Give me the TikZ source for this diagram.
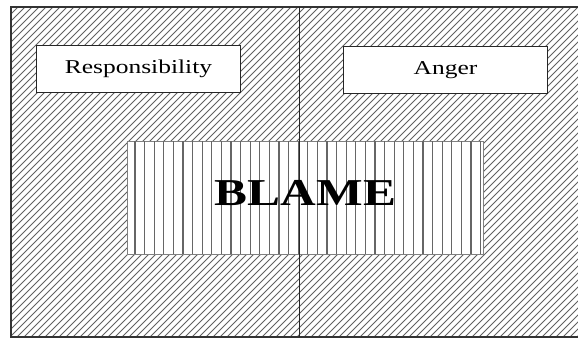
\documentclass[tikz,border=0pt]{standalone}
\usepackage{fontspec}
\setmainfont{Liberation Serif}
\begin{document}
\begin{tikzpicture}[x=1pt,y=-1pt,
  hatch/.style={draw=black!62,line width=1pt},
  vhatch/.style={draw=black!60,line width=1.1pt},
  labelbox/.style={draw=black!85,line width=1pt,fill=white,minimum width=204pt,minimum height=47pt,inner sep=0pt,
     font=\fontsize{19.6}{20}\selectfont,text height=13pt,text depth=4pt},
  blamebox/.style={draw=black!50,line width=0.6pt,fill=white,minimum width=356pt,minimum height=113pt,inner sep=0pt},
  blametext/.style={font=\fontsize{38}{40}\selectfont\bfseries,inner sep=0pt,anchor=base},
  frame/.style={draw=black!80,line width=1.3pt},
  divider/.style={draw=black!85,line width=1pt}]
\useasboundingbox (0,0) rectangle (578,339);
\coordinate (nw) at (11,7);
\coordinate (se) at (584,337);
\coordinate (dtop) at (299,7);
\coordinate (dbot) at (299,337);
% diagonal hatching of the whole frame
\begin{scope}
  \clip (nw) rectangle (se);
  \foreach \i in {-340,-333,...,590} \draw[hatch] (\i,337) -- ++(340,-340);
\end{scope}
\draw[frame] (nw) rectangle (se);
% label boxes
\node[labelbox] (resp) at (138.5,69.5) {\scalebox{1.3}[1]{Responsibility}};
\node[labelbox] (anger) at (445.5,70.5) {\scalebox{1.3}[1]{Anger}};
% blame box with vertical hatching
\node[blamebox] (blame) at (305,197.5) {};
\begin{scope}
  \clip (blame.north west) rectangle (blame.south east);
  \foreach \k in {0,...,36} \draw[vhatch] ({135+9.6*\k},141) -- ({135+9.6*\k},254);
\end{scope}
\draw[divider] (dtop) -- (dbot);
\node[blametext] (blamelabel) at (305.5,205) {\scalebox{1.3}[1]{BLAME}};
\end{tikzpicture}
\end{document}
